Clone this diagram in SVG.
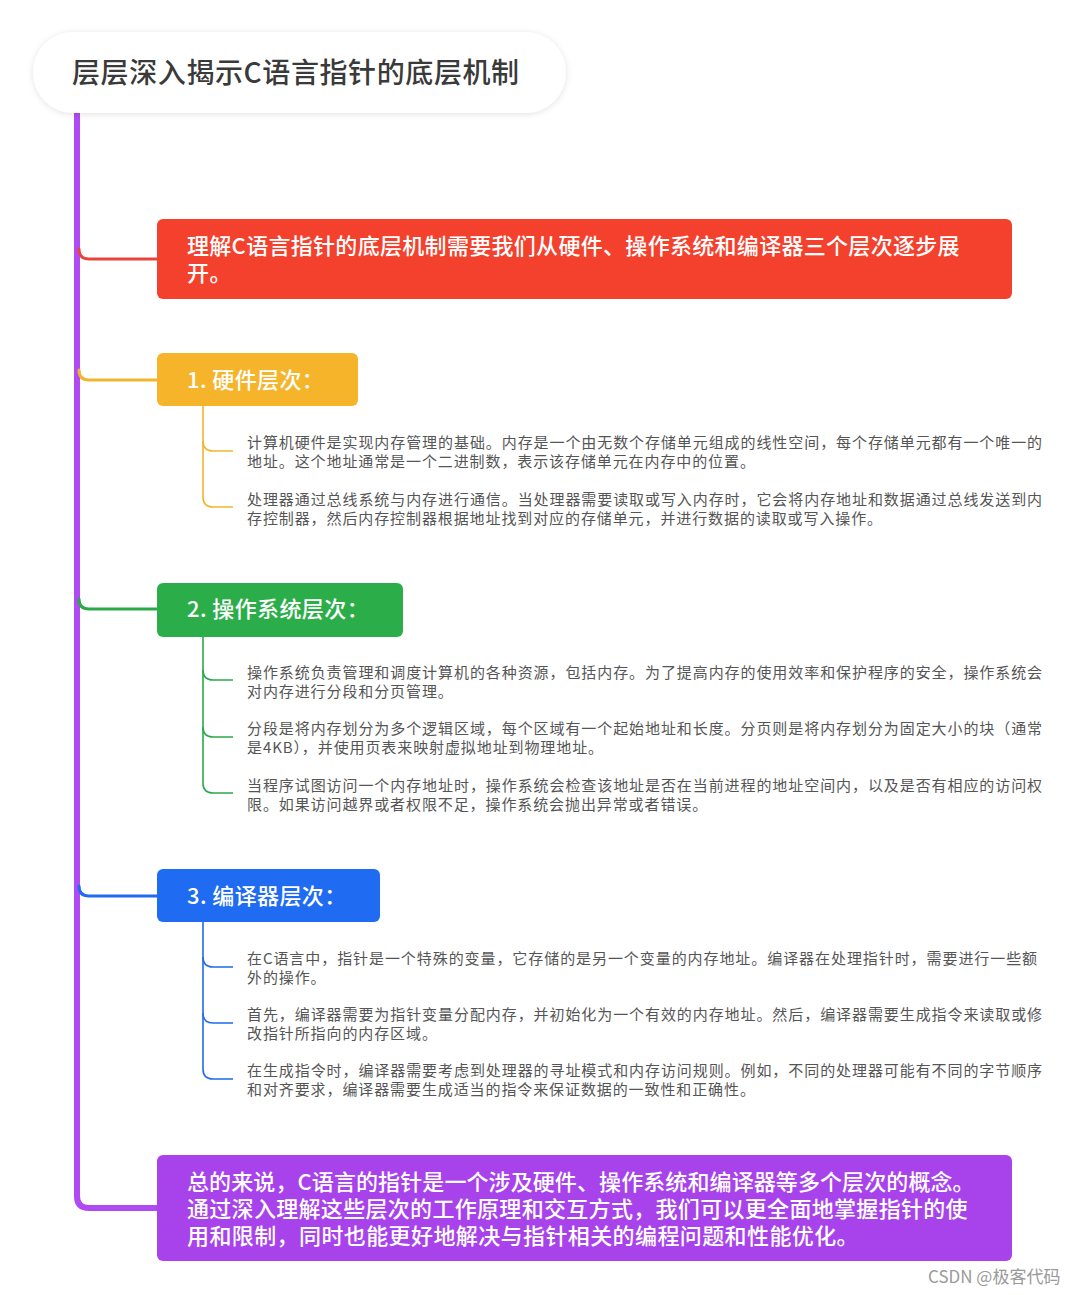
<svg xmlns="http://www.w3.org/2000/svg" width="1080" height="1295" viewBox="0 0 1080 1295">
<defs>
<filter id="sh" x="-10%" y="-30%" width="120%" height="160%">
<feDropShadow dx="0" dy="1" stdDeviation="3" flood-color="#000" flood-opacity="0.12"/>
</filter>
<style>
.t{font-family:"Noto Sans CJK SC","Noto Sans",sans-serif;}
.title{font-size:28px;font-weight:500;fill:#3a3a3a;letter-spacing:0.6px;}
.nt{font-size:22px;font-weight:500;fill:#ffffff;letter-spacing:0.4px;}
.bt{font-size:15px;fill:#555555;letter-spacing:0.9px;}
.wm{font-size:17px;fill:#9a9a9a;}
.br{fill:none;stroke-width:3;stroke-linecap:round;}
.ch{fill:none;stroke-width:1.6;}
</style>
</defs>
<rect width="1080" height="1295" fill="#ffffff"/>

<g id="connectors">
<path d="M77,113 V1196 Q77,1208 89,1208 H158" fill="none" stroke="#B04AF2" stroke-width="6"/>
<path class="br" d="M79,249 Q79,259 89,259 H158" stroke="#E8453A"/>
<path class="br" d="M79,370 Q79,380 89,380 H158" stroke="#F2B52E"/>
<path class="br" d="M79,599 Q79,609 89,609 H158" stroke="#2BA84A"/>
<path class="br" d="M79,886 Q79,896 89,896 H158" stroke="#1F6BF1"/>

<g stroke="#F2B52E" class="ch">
<path class="ch" d="M203,406 V497 Q203,507 213,507 H233"/>
<path class="ch" d="M203,441 Q203,451 213,451 H233"/>
</g>
<g stroke="#2BA84A" class="ch">
<path class="ch" d="M203,637 V783 Q203,793 213,793 H233"/>
<path class="ch" d="M203,670 Q203,680 213,680 H233"/>
<path class="ch" d="M203,727 Q203,737 213,737 H233"/>
</g>
<g stroke="#1F6BF1" class="ch">
<path class="ch" d="M203,922 V1069 Q203,1079 213,1079 H233"/>
<path class="ch" d="M203,957 Q203,967 213,967 H233"/>
<path class="ch" d="M203,1013 Q203,1023 213,1023 H233"/>
</g>
</g>

<g id="title">
<rect x="33" y="32" width="533" height="81" rx="40.5" fill="#ffffff" filter="url(#sh)"/>
<text class="t title" x="72" y="83">层层深入揭示C语言指针的底层机制</text>
</g>

<g id="intro">
<rect x="157" y="219" width="855" height="80" rx="6" fill="#F4412E"/>
<text class="t nt" x="187" y="254" textLength="773" lengthAdjust="spacing">理解C语言指针的底层机制需要我们从硬件、操作系统和编译器三个层次逐步展</text>
<text class="t nt" x="187" y="281">开。</text>
</g>

<g id="hw">
<rect x="157" y="353" width="201" height="53" rx="6" fill="#F5B42A"/>
<text class="t nt" x="187" y="388">1. 硬件层次：</text>
</g>
<g id="hw1">
<text class="t bt" x="247" y="448" textLength="796" lengthAdjust="spacing">计算机硬件是实现内存管理的基础。内存是一个由无数个存储单元组成的线性空间，每个存储单元都有一个唯一的</text>
<text class="t bt" x="247" y="467">地址。这个地址通常是一个二进制数，表示该存储单元在内存中的位置。</text>
</g>
<g id="hw2">
<text class="t bt" x="247" y="505" textLength="796" lengthAdjust="spacing">处理器通过总线系统与内存进行通信。当处理器需要读取或写入内存时，它会将内存地址和数据通过总线发送到内</text>
<text class="t bt" x="247" y="524">存控制器，然后内存控制器根据地址找到对应的存储单元，并进行数据的读取或写入操作。</text>
</g>

<g id="os">
<rect x="157" y="583" width="246" height="54" rx="6" fill="#2BAE4A"/>
<text class="t nt" x="187" y="617">2. 操作系统层次：</text>
</g>
<g id="os1">
<text class="t bt" x="247" y="678" textLength="796" lengthAdjust="spacing">操作系统负责管理和调度计算机的各种资源，包括内存。为了提高内存的使用效率和保护程序的安全，操作系统会</text>
<text class="t bt" x="247" y="697">对内存进行分段和分页管理。</text>
</g>
<g id="os2">
<text class="t bt" x="247" y="734" textLength="796" lengthAdjust="spacing">分段是将内存划分为多个逻辑区域，每个区域有一个起始地址和长度。分页则是将内存划分为固定大小的块（通常</text>
<text class="t bt" x="247" y="753">是4KB），并使用页表来映射虚拟地址到物理地址。</text>
</g>
<g id="os3">
<text class="t bt" x="247" y="791" textLength="796" lengthAdjust="spacing">当程序试图访问一个内存地址时，操作系统会检查该地址是否在当前进程的地址空间内，以及是否有相应的访问权</text>
<text class="t bt" x="247" y="810">限。如果访问越界或者权限不足，操作系统会抛出异常或者错误。</text>
</g>

<g id="cc">
<rect x="157" y="869" width="223" height="53" rx="6" fill="#1F6BF1"/>
<text class="t nt" x="187" y="904">3. 编译器层次：</text>
</g>
<g id="cc1">
<text class="t bt" x="247" y="964" textLength="791" lengthAdjust="spacing">在C语言中，指针是一个特殊的变量，它存储的是另一个变量的内存地址。编译器在处理指针时，需要进行一些额</text>
<text class="t bt" x="247" y="983">外的操作。</text>
</g>
<g id="cc2">
<text class="t bt" x="247" y="1020" textLength="796" lengthAdjust="spacing">首先，编译器需要为指针变量分配内存，并初始化为一个有效的内存地址。然后，编译器需要生成指令来读取或修</text>
<text class="t bt" x="247" y="1039">改指针所指向的内存区域。</text>
</g>
<g id="cc3">
<text class="t bt" x="247" y="1076" textLength="796" lengthAdjust="spacing">在生成指令时，编译器需要考虑到处理器的寻址模式和内存访问规则。例如，不同的处理器可能有不同的字节顺序</text>
<text class="t bt" x="247" y="1095">和对齐要求，编译器需要生成适当的指令来保证数据的一致性和正确性。</text>
</g>

<g id="summary">
<rect x="157" y="1155" width="855" height="106" rx="6" fill="#A843EC"/>
<text class="t nt" x="187" y="1190" textLength="788" lengthAdjust="spacing">总的来说，C语言的指针是一个涉及硬件、操作系统和编译器等多个层次的概念。</text>
<text class="t nt" x="187" y="1217" textLength="781" lengthAdjust="spacing">通过深入理解这些层次的工作原理和交互方式，我们可以更全面地掌握指针的使</text>
<text class="t nt" x="187" y="1244">用和限制，同时也能更好地解决与指针相关的编程问题和性能优化。</text>
</g>

<text class="t wm" x="928" y="1283">CSDN @极客代码</text>
</svg>
